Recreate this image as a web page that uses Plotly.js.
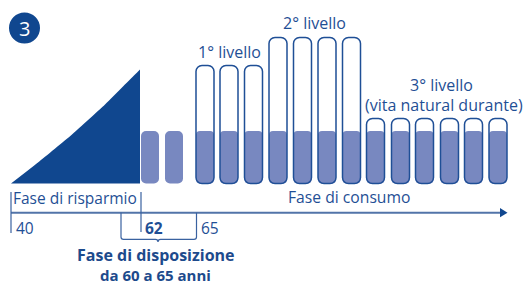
<!DOCTYPE html>
<html><head><meta charset="utf-8">
<script src="https://cdn.plot.ly/plotly-3.0.1.min.js"></script>
<style>html,body{margin:0;padding:0;background:#fff}#chart{width:525px;height:284px}</style>
</head><body><div id="chart"></div>
<script>
// ---- data ----
const savingsX = [11, 38, 72, 105, 122, 135, 140];
const savingsY = [0, 21, 49, 79, 96, 109, 114];
const disposalX = [150, 174];
const disposalIncome = [52.5, 52.5];
const level1X = [205, 229, 253.5];
const level2X = [278, 302.5, 327, 351.5];
const level3X = [375.5, 400.5, 424.5, 449.5, 473.5, 498];
const level1Top = 118;
const level2Top = 146;
const level3Top = 65;
const baseIncome = 52.5;
const ageLabels = ['40', '62', '65'];
const phaseLabels = ['Fase di risparmio', 'Fase di consumo'];
const levelLabels = ['1° livello', '2° livello', '3° livello', '(vita natural durante)'];
const disposalLabel = ['Fase di disposizione', 'da 60 a 65 anni'];

const levelX = level1X.concat(level2X, level3X);
const levelTops = level1X.map(() => level1Top)
  .concat(level2X.map(() => level2Top), level3X.map(() => level3Top));
const levelFill = levelX.map(() => baseIncome);

const DARK = '#10478f', LIGHT = '#7888c0', LINE = '#1f4f96', TXT = '#1f4f95';
const FONT = 'Open Sans, Noto Sans, sans-serif';

const traces = [
  {type: 'scatter', mode: 'lines', x: savingsX, y: savingsY, fill: 'tozeroy',
   fillcolor: DARK, line: {width: 0, color: DARK, shape: 'spline', smoothing: 0.6}, hoverinfo: 'skip'},
  {type: 'bar', x: disposalX, y: disposalIncome, base: 0, width: 18,
   marker: {color: LIGHT, cornerradius: 5, line: {width: 0}}},
  {type: 'bar', x: levelX, y: levelFill, base: 0, width: 18,
   marker: {color: LIGHT, cornerradius: 4, line: {width: 0}}},
  {type: 'bar', x: levelX, y: levelTops, base: 0, width: 18,
   marker: {color: 'rgba(0,0,0,0)', cornerradius: 6, line: {width: 1.5, color: LINE}}}
];

const yAxisY = -29.2;
const shapes = [
  {type: 'circle', xref: 'x', yref: 'y', x0: 9, x1: 40, y0: 140, y1: 171, fillcolor: DARK, line: {width: 0}},
  {type: 'line', xref: 'x', yref: 'y', x0: 11, x1: 502, y0: yAxisY, y1: yAxisY, line: {color: '#5274a9', width: 2}},
  {type: 'path', xref: 'x', yref: 'y', path: `M 500,${yAxisY+4.6} L 507.5,${yAxisY} L 500,${yAxisY-4.6} Z`, fillcolor: DARK, line: {width: 0}},
  {type: 'line', xref: 'x', yref: 'y', x0: 11, x1: 11, y0: -8.5, y1: -49.5, line: {color: '#3a62a0', width: 1.2}},
  {type: 'line', xref: 'x', yref: 'y', x0: 141, x1: 141, y0: -8.5, y1: -48.5, line: {color: '#3a62a0', width: 1.2}},
  {type: 'path', xref: 'x', yref: 'y',
   path: `M 121,${yAxisY} L 121,-53.5 Q 121,-55.8 123.5,-55.8 L 155.5,-55.8 Q 158,-55.8 158,-58.5 Q 158,-55.8 160.5,-55.8 L 194,-55.8 Q 196.5,-55.8 196.5,-53.5 L 196.5,${yAxisY}`,
   line: {color: '#3a62a0', width: 1.2}}
];

const ann = (text, x, y, opts) => Object.assign({text, x, y, xref: 'x', yref: 'y', showarrow: false,
  xanchor: 'center', yanchor: 'middle', borderpad: 0, font: {family: FONT, size: 15, color: TXT}}, opts || {});

const annotations = [
  ann('3', 24.5, 155.5, {font: {family: FONT, size: 20, color: '#ffffff'}}),
  ann(phaseLabels[0], 12, -14, {xanchor: 'left', font: {family: FONT, size: 15.5, color: TXT}}),
  ann(phaseLabels[1], 348.5, -13, {font: {family: FONT, size: 15.7, color: TXT}}),
  ann(ageLabels[0], 15, -44, {xanchor: 'left', font: {family: FONT, size: 15.5, color: TXT}}),
  ann('<b>' + ageLabels[1] + '</b>', 144, -44, {xanchor: 'left', font: {family: FONT, size: 15.5, color: TXT}}),
  ann(ageLabels[2], 200, -44, {xanchor: 'left', font: {family: FONT, size: 15.5, color: TXT}}),
  ann('<b>' + disposalLabel[0] + '</b>', 155.5, -71, {font: {family: FONT, size: 16, color: '#1d4a8c'}}),
  ann('<b>' + disposalLabel[1] + '</b>', 155, -91, {font: {family: FONT, size: 15, color: '#1d4a8c'}}),
  ann(levelLabels[0], 229, 131.5, {font: {family: FONT, size: 16, color: TXT}}),
  ann(levelLabels[1], 314, 160.5, {font: {family: FONT, size: 16, color: TXT}}),
  ann(levelLabels[2], 441.5, 98.5, {font: {family: FONT, size: 16, color: TXT}}),
  ann(levelLabels[3], 444, 78.5, {font: {family: FONT, size: 16, color: TXT}})
];

const layout = {
  width: 525, height: 284, margin: {l: 0, r: 0, t: 0, b: 0, pad: 0},
  paper_bgcolor: '#ffffff', plot_bgcolor: '#ffffff', showlegend: false,
  barmode: 'overlay',
  xaxis: {range: [0, 525], visible: false, fixedrange: true},
  yaxis: {range: [-100.5, 183.5], visible: false, fixedrange: true},
  shapes, annotations
};
Plotly.newPlot('chart', traces, layout, {staticPlot: true, displayModeBar: false});
</script></body></html>
